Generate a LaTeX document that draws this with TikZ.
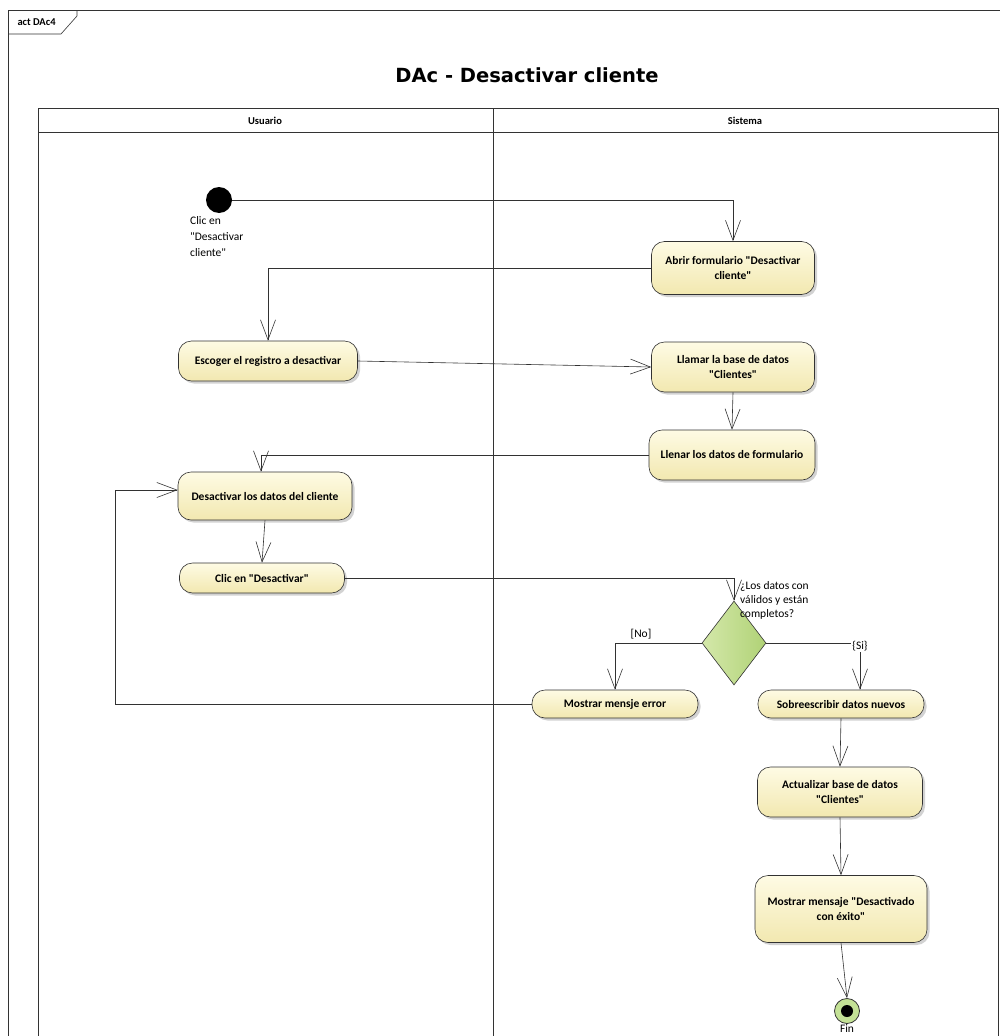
\documentclass[tikz,border=0pt]{standalone}
\usepackage{fontspec}
\setmainfont{Carlito}
\newfontfamily\titlefont{DejaVu Sans}
\usepackage{tikz}
\usetikzlibrary{arrows.meta,shadows,shapes.geometric}
\newcommand{\dq}{\textquotedbl}
\definecolor{actTop}{RGB}{254,251,228}
\definecolor{actBot}{RGB}{242,232,176}
\definecolor{decLeft}{RGB}{212,232,170}
\definecolor{decRight}{RGB}{176,210,118}
\definecolor{finFill}{RGB}{196,226,150}
\definecolor{edge}{RGB}{50,50,50}
\tikzstyle{action}=[rectangle, draw=edge, semithick, rounded corners=13pt, top color=actTop, bottom color=actBot, drop shadow={shadow xshift=2.5pt, shadow yshift=-2.5pt, fill=black!35}, font=\fontsize{11.5}{15.5}\selectfont\bfseries, align=center, inner sep=2pt]
\tikzstyle{decision}=[diamond, draw=edge, semithick, left color=decLeft, right color=decRight, minimum width=64pt, minimum height=84pt, inner sep=0pt]
\tikzstyle{initial}=[circle, fill=black, minimum size=26pt, inner sep=0pt]
\tikzstyle{final}=[circle, draw=edge, thick, fill=finFill, minimum size=25pt, inner sep=0pt]
\tikzstyle{flow}=[-{Straight Barb[length=20pt, width=15pt]}, edge, semithick]
\tikzstyle{note}=[font=\fontsize{11.5}{14}\selectfont, inner sep=0pt]
\tikzstyle{lanehead}=[font=\fontsize{10.5}{12}\selectfont\bfseries]

\begin{document}
\begin{tikzpicture}[x=1pt, y=-1pt]
    \useasboundingbox (0,0) rectangle (1000,1036);
    \clip (0,0) rectangle (1000,1036);
    % frame and lanes
    \draw[black!80, semithick] (8,1040) -- (8,10) -- (1004,10);
    \draw[black!80, semithick] (8,34) -- (61,34) -- (77,16) -- (77,10);
    \node[lanehead, anchor=west] (frm) at (14,22) {act DAc4};
    \node[font=\titlefont\fontsize{19.5}{23}\selectfont\bfseries] (title) at (527,75) {DAc - Desactivar cliente};
    \draw[black!80, semithick] (38,1040) -- (38,108) -- (998,108) -- (998,1040);
    \draw[black!80, semithick] (38,132) -- (998,132);
    \draw[black!80, semithick] (493,108) -- (493,1040);
    \node[lanehead] (lane1) at (265,121) {Usuario};
    \node[lanehead] (lane2) at (745,121) {Sistema};
    % nodes
    \node[initial] (init) at (219,200) {};
    \node[note, align=left, anchor=north west, font=\fontsize{11.5}{16}\selectfont] (initlbl) at (190,216) {Clic en\\\dq Desactivar\\cliente\dq};
    \node[action, minimum width=163pt, minimum height=53pt] (abrir) at (733,268) {Abrir formulario \dq Desactivar\\cliente\dq};
    \node[action, minimum width=179pt, minimum height=40pt] (escoger) at (268,361) {Escoger el registro a desactivar};
    \node[action, minimum width=163pt, minimum height=50pt] (llamar) at (733,367) {Llamar la base de datos\\\dq Clientes\dq};
    \node[action, minimum width=166pt, minimum height=50pt] (llenar) at (732,455) {Llenar los datos de formulario};
    \node[action, minimum width=174pt, minimum height=48pt] (desact) at (265,496) {Desactivar los datos del cliente};
    \node[action, minimum width=165pt, minimum height=30pt] (clic) at (262,578) {Clic en \dq Desactivar\dq};
    \node[decision] (dec) at (734,643) {};
    \node[note, align=left, anchor=north west] (declbl) at (740,581) {¿Los datos con\\válidos y están\\completos?};
    \node[action, minimum width=166pt, minimum height=28pt] (error) at (615,704) {Mostrar mensje error};
    \node[action, minimum width=166pt, minimum height=28pt] (sobre) at (841,704) {Sobreescribir datos nuevos};
    \node[action, minimum width=165pt, minimum height=50pt] (actual) at (840,792) {Actualizar base de datos\\\dq Clientes\dq};
    \node[action, minimum width=172pt, minimum height=67pt] (mensaje) at (841,909) {Mostrar mensaje \dq Desactivado\\con éxito\dq};
    \node[final] (fin) at (847,1011) {};
    \node[circle, fill=black, minimum size=12pt, inner sep=0pt] (findot) at (fin) {};
    \node[note] (finlbl) at (847,1029) {Fin};
    % flows
    \draw[flow] (init.east) -| (abrir.north);
    \draw[flow] (abrir.west) -| (escoger.north);
    \draw[flow] (escoger.east) -- (llamar.west);
    \draw[flow] (llamar.south) -- (llenar.north);
    \draw[flow] (llenar.west) -| ([xshift=-4pt]desact.north);
    \draw[flow] (desact.south) -- (clic.north);
    \draw[flow] (clic.east) -| (dec.north);
    \draw[flow] (dec.west) -| (error.north);
    \node[note] (nolbl) at (641,634) {[No]};
    \draw[flow] (dec.east) -| ([xshift=19pt]sobre.north);
    \node[note, fill=white, inner sep=1pt] (silbl) at (860,646) {\{Si\}};
    \draw[flow] (error.west) -- (115,704) |- ([yshift=6pt]desact.west);
    \draw[flow] (sobre.south) -- (actual.north);
    \draw[flow] (actual.south) -- (mensaje.north);
    \draw[flow] (mensaje.south) -- (fin.north);
\end{tikzpicture}
\end{document}
